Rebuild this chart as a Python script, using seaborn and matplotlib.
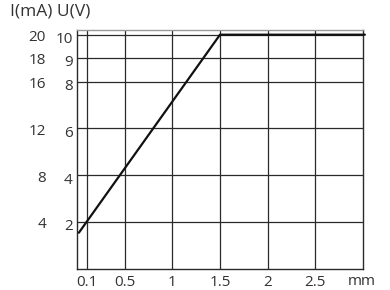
import matplotlib
matplotlib.use("Agg")
import matplotlib.pyplot as plt
import matplotlib.transforms as mtransforms
import seaborn as sns
import pandas as pd

# data
dist_mm = [0.02, 1.5, 3.02]
voltage_v = [1.55, 10.0, 10.0]
u_ticks = [2, 4, 6, 8, 9, 10]
u_labels = ["2", "4", "6", "8", "9", "10"]
i_labels = ["4", "8", "12", "16", "18", "20"]
x_ticks = [0.1, 0.5, 1, 1.5, 2, 2.5]
x_labels = ["0.1", "0.5", "1", "1.5", "2", "2.5"]

sns.set_theme(style="white")
plt.rcParams['font.family'] = ['Open Sans', 'DejaVu Sans']
txt = "#333333"
grid = "#2a2a2a"
fs = 11

fig = plt.figure(figsize=(3.9, 2.9), dpi=100)
ax = fig.add_axes([77/390, 21/290, 286/390, 239/290])

df = pd.DataFrame({"x": dist_mm, "U": voltage_v})
sns.lineplot(data=df, x="x", y="U", ax=ax, color="#111111", linewidth=1.6, zorder=5, clip_on=False)

ax.set_xlim(0, 3.0)
ax.set_ylim(0, 10.2)
ax.set_xticks(x_ticks)
ax.set_xticklabels(x_labels)
ax.set_yticks(u_ticks)
ax.set_yticklabels(u_labels)
ax.tick_params(length=0, labelsize=fs, colors=txt, pad=3)
ax.tick_params(axis='x', pad=4)
ax.grid(True, color=grid, linewidth=0.9)
ax.set_xlabel("")
ax.set_ylabel("")

# small downward nudge of y labels, as in the reference
shift = mtransforms.ScaledTranslation(0, -2/72, fig.dpi_scale_trans)
for lab in ax.get_yticklabels():
    lab.set_transform(lab.get_transform() + shift)

for s in ["left", "bottom", "right"]:
    ax.spines[s].set_color(grid)
    ax.spines[s].set_linewidth(1.0)
ax.spines["top"].set_color("#999999")
ax.spines["top"].set_linewidth(1.0)

tr = ax.get_yaxis_transform() + shift
for y, lab in zip(u_ticks, i_labels):
    ax.text(-0.108, y, lab, transform=tr, ha="right", va="center", fontsize=fs, color=txt)

ax.text(2.99, -0.068, "mm", transform=ax.get_xaxis_transform(), ha="center", va="baseline", fontsize=fs, color=txt)
fig.text(10/390, 1 - 12/290, "I(mA) U(V)", ha="left", va="center", fontsize=12.5, color=txt)

fig.savefig("out.png", dpi=100)
